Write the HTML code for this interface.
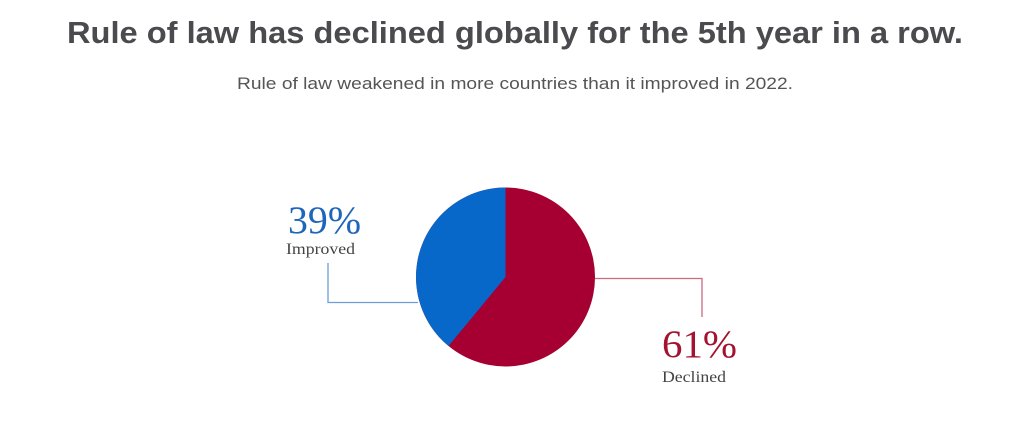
<!DOCTYPE html>
<html><head><meta charset="utf-8"><style>
html,body{margin:0;padding:0;background:#fff;width:1024px;height:445px;overflow:hidden}
</style></head><body>
<svg width="1024" height="445" viewBox="0 0 1024 445" xmlns="http://www.w3.org/2000/svg">
<text x="67" y="43" font-family="Liberation Sans, sans-serif" font-weight="bold" font-size="31" fill="#4a4a4f" textLength="896" lengthAdjust="spacingAndGlyphs">Rule of law has declined globally for the 5th year in a row.</text>
<text x="237" y="89" font-family="Liberation Sans, sans-serif" font-size="17" fill="#555" textLength="556" lengthAdjust="spacingAndGlyphs">Rule of law weakened in more countries than it improved in 2022.</text>
<circle cx="505.5" cy="277" r="89.5" fill="#a50031"/>
<path d="M505.5 277 L505.5 187.5 A89.5 89.5 0 0 0 448.5 346 Z" fill="#0868c9"/>
<polyline points="328,263 328,302.5 418,302.5" fill="none" stroke="#6a9fd6" stroke-width="1.3"/>
<polyline points="595,278.5 702,278.5 702,317" fill="none" stroke="#c96a7f" stroke-width="1.3"/>
<text x="288" y="233" font-family="Liberation Serif, serif" font-size="39" fill="#1f66bb" textLength="73" lengthAdjust="spacingAndGlyphs">39%</text>
<text x="286" y="254" font-family="Liberation Serif, serif" font-size="16" fill="#444" textLength="69" lengthAdjust="spacingAndGlyphs">Improved</text>
<text x="662" y="357" font-family="Liberation Serif, serif" font-size="39" fill="#a3132f" textLength="75" lengthAdjust="spacingAndGlyphs">61%</text>
<text x="662" y="382" font-family="Liberation Serif, serif" font-size="16" fill="#444" textLength="64" lengthAdjust="spacingAndGlyphs">Declined</text>
</svg>
</body></html>
